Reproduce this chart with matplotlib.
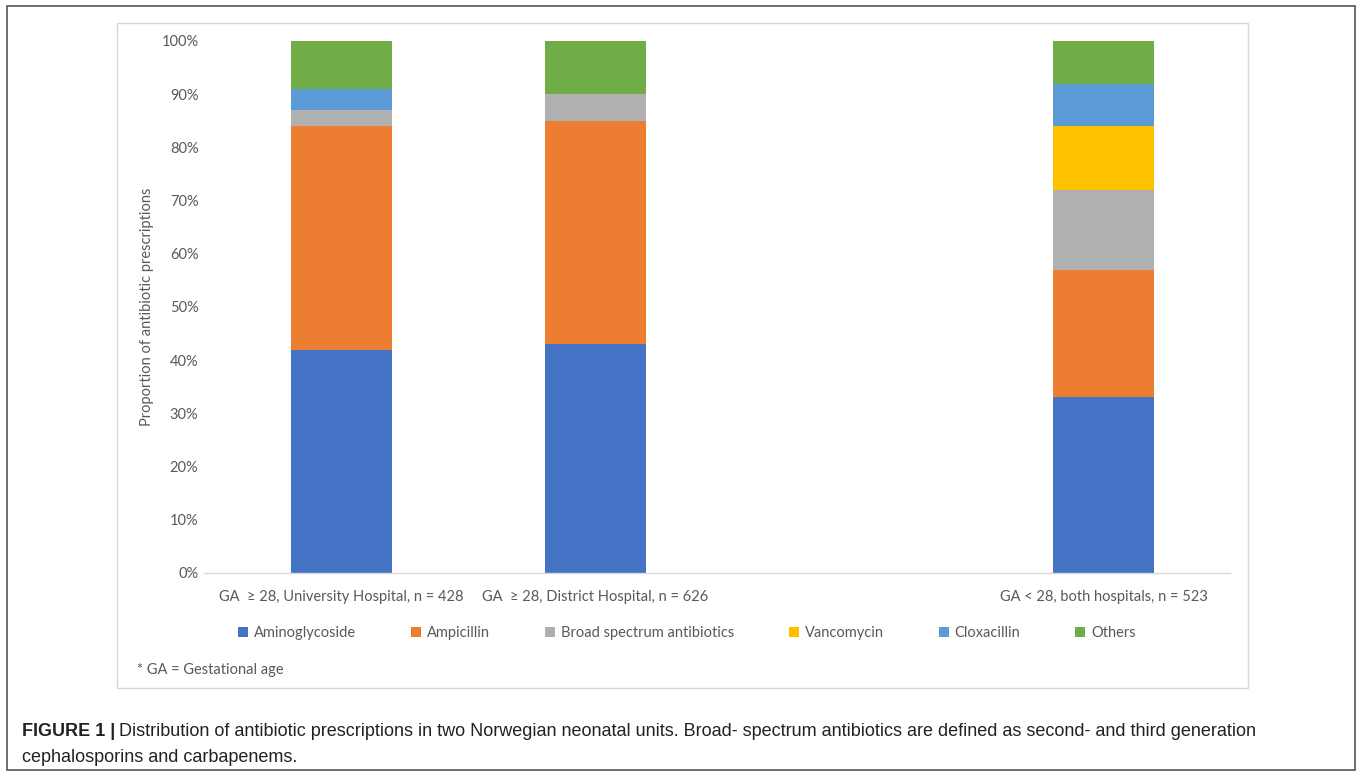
import matplotlib
matplotlib.use("Agg")
import matplotlib.pyplot as plt
from matplotlib.patches import Rectangle, Patch
import numpy as np

categories = ["GA  \u2265 28, University Hospital, n = 428",
              "GA  \u2265 28, District Hospital, n = 626",
              "",
              "GA < 28, both hospitals, n = 523"]
series = ["Aminoglycoside", "Ampicillin", "Broad spectrum antibiotics",
          "Vancomycin", "Cloxacillin", "Others"]
aminoglycoside = [42, 43, np.nan, 33]
ampicillin = [42, 42, np.nan, 24]
broad = [3, 5, np.nan, 15]
vancomycin = [0, 0, np.nan, 12]
cloxacillin = [4, 0, np.nan, 8]
others = [9, 10, np.nan, 8]
colors = ["#4472C4", "#ED7D31", "#B0B0B0", "#FFC000", "#5B9BD5", "#70AD47"]
yticks = [0, 10, 20, 30, 40, 50, 60, 70, 80, 90, 100]

W, H = 1360, 775
fig = plt.figure(figsize=(W / 100, H / 100), dpi=100)
FONT = ["Lato", "DejaVu Sans"]
TXT = "#595959"
FS = 10.5

# outer frame
fig.add_artist(Rectangle((7 / W, 1 - 770 / H), 1348 / W, 764 / H, transform=fig.transFigure,
                         fill=False, edgecolor="#555555", lw=1.2))
# inner chart box
fig.add_artist(Rectangle((117 / W, 1 - 688 / H), 1131 / W, 665 / H, transform=fig.transFigure,
                         fill=False, edgecolor="#d9d9d9", lw=1.0))

ax = fig.add_axes([204 / W, 1 - 573 / H, (1230 - 204) / W, (573 - 41) / H])
x = np.arange(len(categories))
data = [aminoglycoside, ampicillin, broad, vancomycin, cloxacillin, others]
bottom = np.zeros(len(categories))
for vals, c, name in zip(data, colors, series):
    v = np.nan_to_num(np.array(vals, dtype=float)) / 100
    ax.bar(x, v, width=0.4, bottom=bottom, color=c, label=name, linewidth=0)
    bottom += v

ax.set_xlim(-0.541, 3.498)
ax.set_ylim(0, 1)
ax.set_yticks([t / 100 for t in yticks])
ax.set_yticklabels([f"{t}%" for t in yticks], fontsize=FS, color=TXT, family=FONT)
ax.set_xticks(x)
ax.set_xticklabels(categories, fontsize=FS, color=TXT, family=FONT)
ax.tick_params(axis="both", length=0)
ax.tick_params(axis="y", pad=4)
ax.tick_params(axis="x", pad=12)
for s in ["top", "right", "left"]:
    ax.spines[s].set_visible(False)
ax.spines["bottom"].set_color("#d9d9d9")
ax.spines["bottom"].set_linewidth(1.0)
ax.set_ylabel("Proportion of antibiotic prescriptions", fontsize=FS, color=TXT, family=FONT,
              labelpad=5)

handles = [Patch(facecolor=c, edgecolor="none") for c in colors]
leg = fig.legend(handles, series, loc="center", bbox_to_anchor=(687 / W, 1 - 633 / H), ncol=6,
                 frameon=False, handlelength=0.7, handleheight=0.7, handletextpad=0.4,
                 columnspacing=3.75, prop={"family": FONT, "size": FS})
for t in leg.get_texts():
    t.set_color(TXT)

fig.text(137 / W, 1 - 670 / H, "* GA = Gestational age", fontsize=FS, color=TXT, family=FONT,
         va="center", ha="left")

CAP = ["Liberation Sans", "DejaVu Sans"]
CFS = 13
t1 = fig.text(22 / W, 1 - 731 / H, "FIGURE 1 |", fontsize=CFS, fontweight="bold", color="#222222",
              family=CAP, va="center", ha="left")
fig.canvas.draw()
r = fig.canvas.get_renderer()
bb = t1.get_window_extent(r)
fig.text((bb.x1 + 4) / W, 1 - 731 / H,
         "Distribution of antibiotic prescriptions in two Norwegian neonatal units. Broad- spectrum antibiotics are defined as second- and third generation",
         fontsize=CFS, color="#222222", family=CAP, va="center", ha="left")
fig.text(22 / W, 1 - 757 / H, "cephalosporins and carbapenems.", fontsize=CFS, color="#222222",
         family=CAP, va="center", ha="left")

fig.savefig("out.png", dpi=100, facecolor="white")
